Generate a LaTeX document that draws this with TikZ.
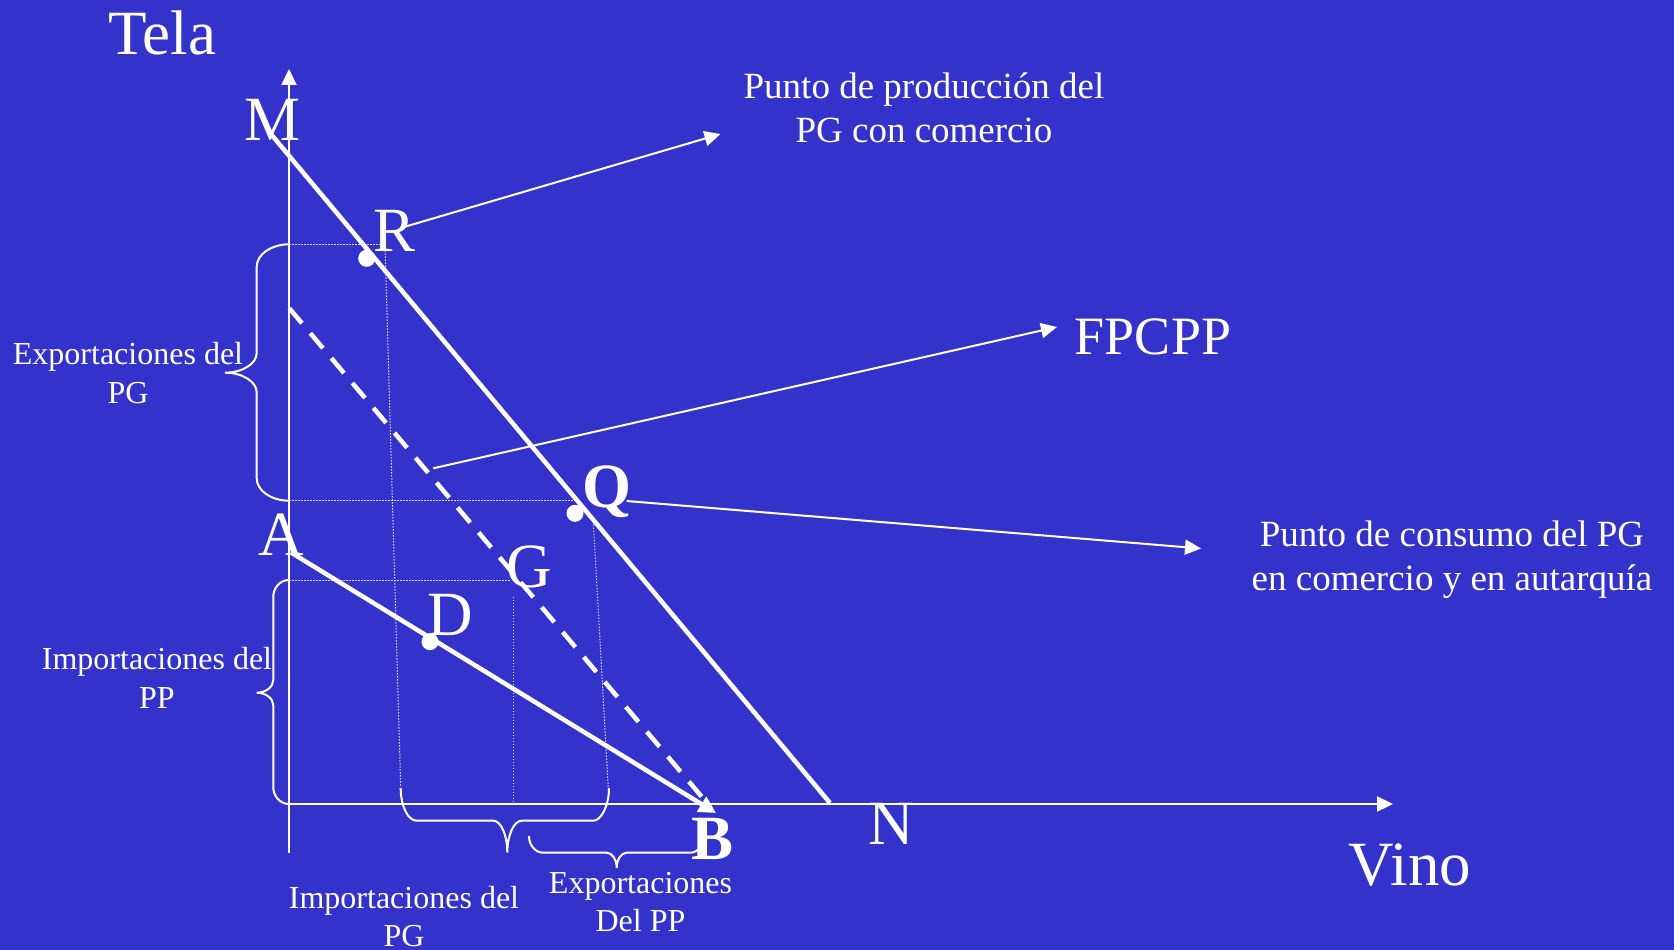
\documentclass[tikz,border=0pt]{standalone}
\usepackage{fontspec}
\setmainfont{Liberation Serif}
\usetikzlibrary{arrows.meta}
\definecolor{fondo}{RGB}{51,51,204}

\begin{document}
\begin{tikzpicture}[x=1pt,y=-1pt,
		every node/.style={text=white,inner sep=0pt},
		eje/.style={white,line width=2.2pt,-{Triangle[length=16pt,width=15pt]}},
		recta/.style={white,line width=4.5pt},
		flecha/.style={white,line width=2pt,-{Triangle[length=16pt,width=15pt]}},
		guia/.style={white!80!fondo,line width=1pt,dash pattern=on 1.5pt off 1.5pt},
		llave/.style={white,line width=2pt},
		grande/.style={font=\fontsize{63}{70}\selectfont,anchor=base},
		medio/.style={font=\fontsize{37}{44}\selectfont,align=center,anchor=base},
		chico/.style={font=\fontsize{32}{38.4}\selectfont,align=center,anchor=base}]
		\useasboundingbox (0,0) rectangle (1674,950);
		\fill[fondo] (0,0) rectangle (1674,950);
		% puntos
		\coordinate (O) at (289,804);
		\coordinate (M) at (271.7,135);
		\coordinate (N) at (830,803);
		\coordinate (A) at (291,552.5);
		\coordinate (B) at (716,813);
		\coordinate (F) at (289.3,308.3);
		\coordinate (Fb) at (701.7,796.7);
		\coordinate (R) at (366.7,258.3);
		\coordinate (Q) at (575,513.3);
		\coordinate (D) at (430,641.7);
		% ejes
		\draw[eje] (289,853) -- (289,69);
		\draw[eje] (O) -- (1393,804);
		% lineas guia
		\draw[guia] (289,244.3) -- (380,244.3);
		\draw[guia] (289,500.7) -- (575,500.7);
		\draw[guia] (289,580) -- (511,580);
		\draw[guia] (385,244.3) -- (400.7,787);
		\draw[guia] (593.3,521.7) -- (608.3,788.3);
		\draw[guia] (513.3,596.7) -- (513.3,804);
		% rectas
		\draw[recta] (M) -- (N);
		\draw[recta,-{Triangle[length=17pt,width=17pt]}] (A) -- (B);
		\draw[recta,dash pattern=on 19.6pt off 13pt] (F) -- (Fb);
		\fill[white] (R) circle (8.5pt);
		\fill[white] (Q) circle (8.5pt);
		\fill[white] (D) circle (8.5pt);
		% llaves
		\draw[llave] (289,244.3) .. controls (271.2,244.3) and (256.7,254.4) .. (256.7,266.7) -- (256.7,353)
			.. controls (256.7,363.8) and (242.4,372.7) .. (225,372.7) .. controls (242.4,372.7) and (256.7,381.6) .. (256.7,392.4)
			-- (256.7,478.3) .. controls (256.7,490.6) and (271.2,500.7) .. (289,500.7);
		\draw[llave] (289,580) .. controls (280.4,580) and (273.3,587.5) .. (273.3,596.7) -- (273.3,680)
			.. controls (273.3,687) and (265.8,692.7) .. (256.7,692.7) .. controls (265.8,692.7) and (273.3,698.4) .. (273.3,705.4)
			-- (273.3,787.3) .. controls (273.3,796.5) and (280.4,804) .. (289,804);
		\draw[llave] (400.7,788) .. controls (400.7,806) and (407.9,820.7) .. (416.7,820.7) -- (493.3,820.7)
			.. controls (501,820.7) and (507.3,835.1) .. (507.3,852.7) .. controls (507.3,835.1) and (514,820.7) .. (521.7,820.7)
			-- (593.3,820.7) .. controls (601,820.7) and (609,806) .. (609,788);
		\draw[llave] (529,836) .. controls (529,845.2) and (535.4,852.7) .. (543.3,852.7) -- (606.7,852.7)
			.. controls (612.2,852.7) and (616.7,859.6) .. (616.7,868) .. controls (616.7,859.6) and (621.2,852.7) .. (626.7,852.7)
			-- (690,852.7) .. controls (697.9,852.7) and (704,845.2) .. (704,836);
		% letras
		\node[grande] (tela) at (162.5,55) {Tela};
		\node[grande] (vino) at (1410,885) {Vino};
		\node[grande] (labM) at (272.5,140) {M};
		\node[grande] (labR) at (395,251.7) {R};
		\node[grande,font=\fontsize{63}{70}\selectfont\bfseries] (labQ) at (607,507) {Q};
		\node[grande] (labA) at (281.7,555) {A};
		\node[grande] (labG) at (529,587) {G};
		\node[grande] (labD) at (450,635) {D};
		\node[grande,font=\fontsize{63}{70}\selectfont\bfseries] (labB) at (712.5,859.3) {B};
		\node[grande] (labN) at (891.7,844.3) {N};
		\node[grande,font=\fontsize{54}{60}\selectfont] (fpcpp) at (1153,354) {FPCPP};
		% textos de dos lineas: la base es la de la ultima linea
		\node[medio] (prod) at (924,142.7) {Punto de producción del\\PG con comercio};
		\node[medio] (cons) at (1452,590.7) {Punto de consumo del PG\\en comercio y en autarquía};
		\node[chico] (expPG) at (128,403.3) {Exportaciones del\\PG};
		\node[chico] (impPP) at (157,708.3) {Importaciones del\\PP};
		\node[chico] (impPG) at (404,946.7) {Importaciones del\\PG};
		\node[chico] (expPP) at (640.5,931.7) {Exportaciones\\Del PP};
		% flechas
		\coordinate (prodtip) at (720.5,134);
		\coordinate (fptail) at (433.3,468.3);
		\coordinate (fptip) at (1057,327);
		\coordinate (constip) at (1201,548.5);
		\draw[flecha] (405,226.7) -- (prodtip);
		\draw[flecha] (fptail) -- (fptip);
		\draw[flecha] (626.7,501) -- (constip);
	\end{tikzpicture}
\end{document}
